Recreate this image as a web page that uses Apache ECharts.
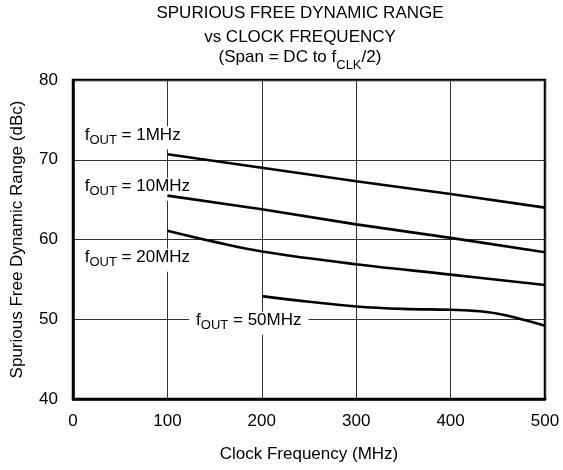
<!DOCTYPE html>
<html><head><meta charset="utf-8">
<script src="https://cdn.jsdelivr.net/npm/echarts@6/dist/echarts.min.js"></script>
<style>html,body{margin:0;padding:0;background:#fff}#c{width:563px;height:470px}</style>
</head><body><div id="c"></div>
<script>
// ---- data ----
const titleLines = ['SPURIOUS FREE DYNAMIC RANGE', 'vs CLOCK FREQUENCY'];
const xName = 'Clock Frequency (MHz)';
const yName = 'Spurious Free Dynamic Range (dBc)';
const xMin = 0, xMax = 500, xStep = 100;
const yMin = 40, yMax = 80, yStep = 10;
const foutLabels = ['1MHz', '10MHz', '20MHz', '50MHz'];
const clk1 = [100, 200, 300, 400, 500];
const sfdr1 = [70.7, 69.0, 67.3, 65.7, 64.0];
const clk10 = [100, 200, 300, 400, 500];
const sfdr10 = [65.5, 63.8, 61.9, 60.2, 58.4];
const clk20 = [100, 150, 200, 300, 400, 500];
const sfdr20 = [61.1, 59.7, 58.5, 56.9, 55.6, 54.3];
const clk50 = [200, 250, 300, 350, 400, 425, 450, 475, 500];
const sfdr50 = [52.9, 52.2, 51.6, 51.3, 51.2, 51.05, 50.7, 50.0, 49.2];
const labelX = [5, 5, 5, 123];
const labelY = [72.75, 66.3, 57.4, 49.5];

const FONT = '"Liberation Sans", Arial, Helvetica, sans-serif';
const pairs = (xs, ys) => xs.map((x, i) => [x, ys[i]]);
const seriesData = [pairs(clk1, sfdr1), pairs(clk10, sfdr10), pairs(clk20, sfdr20), pairs(clk50, sfdr50)];
const smoothFlags = [false, false, 0.4, 0.4];

const chart = echarts.init(document.getElementById('c'), null, {renderer: 'canvas'});
const series = seriesData.map((d, i) => ({
  type: 'line',
  data: d,
  smooth: smoothFlags[i],
  showSymbol: false,
  silent: true,
  lineStyle: {color: '#000', width: 2.6},
  z: 4,
  markPoint: {
    silent: true,
    symbol: 'circle',
    symbolSize: 0,
    z: 2,
    data: [{coord: [labelX[i], labelY[i]]}],
    label: {
      show: true,
      position: 'right',
      distance: 0,
      backgroundColor: '#fff',
      padding: [0, 7, 3, 7],
      formatter: '{m|f}{s|OUT}{m| = ' + foutLabels[i] + '}',
      rich: {
        m: {fontFamily: FONT, fontSize: 17, color: '#000', lineHeight: 20, verticalAlign: 'top'},
        s: {fontFamily: FONT, fontSize: 13, color: '#000', lineHeight: 14, verticalAlign: 'top', padding: [7.5, 0, 0, 0]}
      }
    }
  }
}));

chart.setOption({
  animation: false,
  backgroundColor: '#fff',
  title: {
    left: 300,
    top: 2,
    padding: 0,
    textAlign: 'center',
    text: titleLines.join('\n') + '\n{m|(Span = DC to f}{s|CLK}{m|/2)}',
    textStyle: {
      fontFamily: FONT, fontSize: 17, fontWeight: 'normal', color: '#000', lineHeight: 23.5,
      rich: {
        m: {fontFamily: FONT, fontSize: 17, color: '#000', lineHeight: 23.5, verticalAlign: 'top'},
        s: {fontFamily: FONT, fontSize: 13, color: '#000', lineHeight: 14, verticalAlign: 'top', padding: [9.5, 0, 0, 0]}
      }
    }
  },
  grid: {left: 73, right: 18, top: 80, bottom: 71, show: true, borderColor: '#000', borderWidth: 2.5, backgroundColor: 'transparent'},
  xAxis: {
    type: 'value', min: xMin, max: xMax, interval: xStep,
    name: xName, nameLocation: 'middle', nameGap: 47,
    nameTextStyle: {fontFamily: FONT, fontSize: 17, color: '#000'},
    axisLine: {show: true, lineStyle: {color: '#000', width: 2.5}},
    axisTick: {show: false},
    axisLabel: {fontFamily: FONT, fontSize: 17, color: '#000', margin: 14},
    splitLine: {show: true, lineStyle: {color: '#333', width: 1}}
  },
  yAxis: {
    type: 'value', min: yMin, max: yMax, interval: yStep,
    name: yName, nameLocation: 'middle', nameGap: 47,
    nameTextStyle: {fontFamily: FONT, fontSize: 17, color: '#000'},
    axisLine: {show: true, lineStyle: {color: '#000', width: 2.5}},
    axisTick: {show: false},
    axisLabel: {fontFamily: FONT, fontSize: 17, color: '#000', margin: 15},
    splitLine: {show: true, lineStyle: {color: '#333', width: 1}}
  },
  series: series
});
</script>
</body></html>
